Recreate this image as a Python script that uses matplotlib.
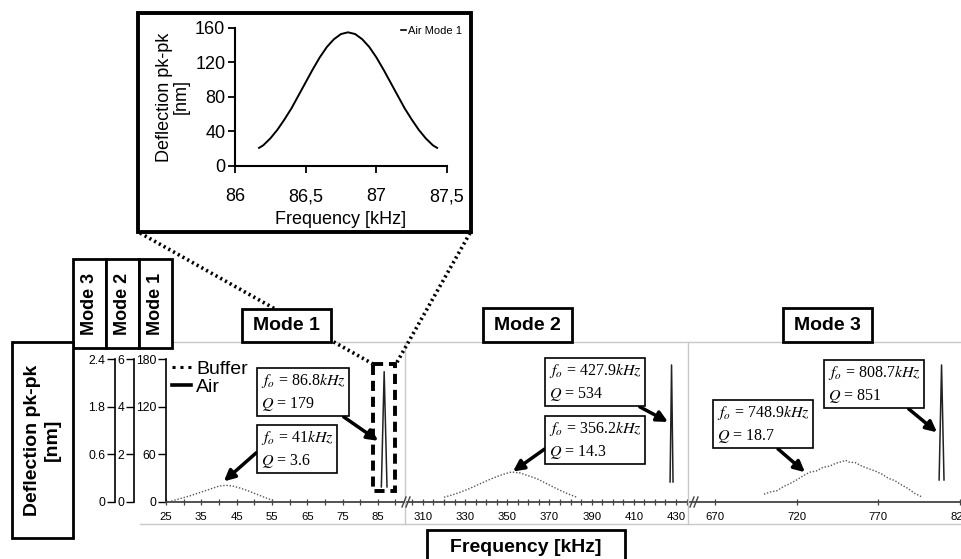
import matplotlib.pyplot as plt
from matplotlib.lines import Line2D
from matplotlib.patches import Rectangle

plt.rcParams['font.family'] = ['Liberation Sans', 'DejaVu Sans']
plt.rcParams['mathtext.fontset'] = 'stix'

W, H = 961, 559

# ---- data ----
# inset: air, mode 1 (kHz, nm)
inset_f = [86.17, 86.20, 86.25, 86.30, 86.35, 86.40, 86.45, 86.50, 86.55, 86.60, 86.65, 86.70, 86.75, 86.80,
           86.85, 86.90, 86.95, 87.00, 87.05, 87.10, 87.15, 87.20, 87.25, 87.30, 87.35, 87.40, 87.43]
inset_d = [21, 24, 32, 42, 54, 67, 82, 97, 112, 126, 138, 147, 153, 155,
           153, 147, 138, 126, 112, 97, 82, 67, 54, 42, 32, 24, 21]

# mode 1 (nm)
buf1_f = [26.5, 28, 30, 32, 34, 36, 38, 40, 42, 44, 46, 48, 50, 52, 54, 55.7]
buf1_d = [1, 3, 5.5, 8, 11, 14, 17, 20, 21, 20, 17.5, 14.5, 11, 7.5, 4, 1.5]
air1_f = [86.0, 86.8, 87.6]
air1_d = [19, 164, 19]

# mode 2 (nm)
buf2_f = [320, 324, 328, 332, 336, 340, 344, 348, 352, 356, 360, 364, 368, 372, 376, 380, 383]
buf2_d = [0.2, 0.3, 0.42, 0.56, 0.72, 0.88, 1.03, 1.16, 1.26, 1.22, 1.1, 0.98, 0.8, 0.62, 0.45, 0.3, 0.2]
air2_f = [427.2, 427.9, 428.6]
air2_d = [0.84, 5.75, 0.84]

# mode 3 (nm)
buf3_f = [700, 704, 708, 712, 716, 720, 724, 728, 732, 736, 740, 744, 748, 750,
          752, 756, 760, 764, 768, 772, 776, 780, 784, 788, 792, 797]
buf3_d = [0.13, 0.17, 0.19, 0.26, 0.31, 0.37, 0.44, 0.5, 0.52, 0.58, 0.6, 0.65, 0.68, 0.7,
          0.67, 0.66, 0.6, 0.56, 0.52, 0.47, 0.4, 0.36, 0.29, 0.23, 0.15, 0.08]
air3_f = [807.2, 808.7, 810.2]
air3_d = [0.37, 2.3, 0.37]

m1_ticks = [0, 60, 120, 180]
m2_ticks = [0, 2, 4, 6]
m3_ticks = [0, 0.8, 1.6, 2.4]
m3_labels = ['0', '0.6', '1.8', '2.4']

notes = [
    # axis, text, tip (data), box centre (px), relpos
    (0, '$f_o$ = 86.8$kHz$\n$Q$ = 179', (85.1, 77), (303, 392), (0.91, 0)),
    (0, '$f_o$ = 41$kHz$\n$Q$ = 3.6', (41.4, 26), (297, 449), (0, 0.5)),
    (1, '$f_o$ = 427.9$kHz$\n$Q$ = 534', (426.2, 3.36), (595, 382), (0.9, 0)),
    (1, '$f_o$ = 356.2$kHz$\n$Q$ = 14.3', (352.7, 1.28), (595, 440), (0, 0.35)),
    (2, '$f_o$ = 808.7$kHz$\n$Q$ = 851', (805.9, 1.17), (874, 384), (0.82, 0)),
    (2, '$f_o$ = 748.9$kHz$\n$Q$ = 18.7', (725.1, 0.5), (763, 424), (0.61, 0)),
]

fig = plt.figure(figsize=(W / 100, H / 100), dpi=100)


def px_axes(x0, y0, x1, y1, **kw):
    return fig.add_axes([x0 / W, 1 - y1 / H, (x1 - x0) / W, (y1 - y0) / H], **kw)


BUF = dict(color='#555555', lw=1.0, ls=(0, (1, 1.3)))
AIR = dict(color='#222222', lw=1.1)

# ---- three frequency panels ----
ax1 = px_axes(166, 342, 405, 502)
ax2 = px_axes(405, 342, 688, 502)
ax3 = px_axes(688, 342, 961, 502)
axes = [ax1, ax2, ax3]

ax1.set_xlim(25, 92.7)
ax2.set_xlim(301.5, 435.7)
ax3.set_xlim(653.5, 820.6)
ax1.set_ylim(0, 180 * 160 / 143)
ax2.set_ylim(0, 6 * 160 / 143)
ax3.set_ylim(0, 2.4 * 160 / 143)

ax1.plot(buf1_f, buf1_d, **BUF)
ax1.plot(air1_f, air1_d, **AIR)
ax2.plot(buf2_f, buf2_d, **BUF)
ax2.plot(air2_f, air2_d, **AIR)
ax3.plot(buf3_f, buf3_d, **BUF)
ax3.plot(air3_f, air3_d, **AIR)

ax1.set_xticks(range(25, 90, 10))
ax1.set_xticks(range(30, 93, 10), minor=True)
ax2.set_xticks(range(310, 431, 20))
ax2.set_xticks(range(305, 436, 5), minor=True)
ax3.set_xticks([670, 720, 770, 820])

for ax in axes:
    ax.patch.set_alpha(0)
    for s in ['top', 'right', 'left']:
        ax.spines[s].set_visible(False)
    ax.spines['bottom'].set_color('#444444')
    ax.spines['bottom'].set_linewidth(1.3)
    ax.tick_params(axis='x', which='both', direction='inout', length=4, width=0.9,
                   color='#444444', labelsize=8.2, pad=5)
    ax.tick_params(axis='y', left=False, labelleft=False)

ax1.spines['left'].set_visible(True)
ax1.spines['left'].set_bounds(0, 180)
ax1.spines['left'].set_linewidth(1.2)
ax1.set_yticks(m1_ticks)
ax1.tick_params(axis='y', left=True, labelleft=True, direction='out', length=6,
                width=1.0, labelsize=8.8, pad=1)

for xp, ylim, ticks, labels in [(134, 6 * 160 / 143, m2_ticks, None),
                                (115, 2.4 * 160 / 143, m3_ticks, m3_labels)]:
    axm = px_axes(xp, 342, xp + 1, 502)
    axm.patch.set_alpha(0)
    for s in ['top', 'right', 'bottom']:
        axm.spines[s].set_visible(False)
    axm.set_ylim(0, ylim)
    axm.spines['left'].set_bounds(0, ticks[-1])
    axm.spines['left'].set_linewidth(1.2)
    axm.set_xticks([])
    axm.set_yticks(ticks)
    if labels:
        axm.set_yticklabels(labels)
    axm.tick_params(axis='y', direction='out', length=6, width=1.0, labelsize=8.8, pad=1)

ax1.legend(handles=[Line2D([], [], color='black', lw=2.2, ls=(0, (1, 1.6))),
                    Line2D([], [], color='black', lw=2.6)],
           labels=['Buffer', 'Air'], loc='upper left',
           bbox_to_anchor=(172 / W, 1 - 360 / H), bbox_transform=fig.transFigure,
           frameon=False, fontsize=14, handlelength=1.0, handletextpad=0.25,
           labelspacing=0.05, borderpad=0, borderaxespad=0)

for i, txt, tip, (bx, by), rp in notes:
    axes[i].annotate(txt, xy=tip, xycoords='data', xytext=(bx / W, 1 - by / H),
                     textcoords='figure fraction', ha='center', va='center',
                     multialignment='left', fontsize=11.5, linespacing=1.35,
                     family=['Liberation Serif', 'DejaVu Serif'],
                     bbox=dict(boxstyle='square,pad=0.22', fc='white', ec='black', lw=1.2),
                     arrowprops=dict(arrowstyle='-|>', color='black', lw=2.5, mutation_scale=16,
                                     relpos=rp, shrinkA=0, shrinkB=0),
                     annotation_clip=False)

# ---- inset ----
axin = px_axes(235, 28, 447, 166)
axin.plot(inset_f, inset_d, color='black', lw=1.4)
axin.set_xlim(86, 87.5)
axin.set_ylim(0, 160)
axin.set_xticks([86, 86.5, 87, 87.5])
axin.set_xticklabels(['86', '86,5', '87', '87,5'])
axin.set_yticks(range(0, 161, 40))
for s in ['top', 'right']:
    axin.spines[s].set_visible(False)
for s in ['left', 'bottom']:
    axin.spines[s].set_linewidth(1.5)
axin.tick_params(axis='x', direction='out', length=5, width=1.3, labelsize=13, pad=11)
axin.tick_params(axis='y', direction='out', length=5, width=1.3, labelsize=13, pad=2)
axin.set_xlabel('Frequency [kHz]', fontsize=13, labelpad=4)
axin.set_ylabel('Deflection pk-pk\n[nm]', fontsize=13, labelpad=4, linespacing=0.95)
axin.legend(handles=[Line2D([], [], color='black', lw=1.2)], labels=['Air Mode 1'],
            loc='upper right', bbox_to_anchor=(462 / W, 1 - 26 / H), bbox_transform=fig.transFigure,
            frameon=False, fontsize=8, handlelength=0.5, handletextpad=0.15,
            borderpad=0, borderaxespad=0)

# ---- decorations in pixel space ----
ov = fig.add_axes([0, 0, 1, 1], zorder=10)
ov.set_xlim(0, W)
ov.set_ylim(H, 0)
ov.axis('off')
ov.patch.set_alpha(0)

grey = '#c8c8c8'
ov.plot([166, W], [342, 342], color=grey, lw=1.0, zorder=1)
ov.plot([140, W], [524, 524], color=grey, lw=1.0, zorder=1)
for xv in [405, 688]:
    ov.plot([xv, xv], [342, 524], color=grey, lw=1.0, zorder=1)

for xb in [405, 693]:
    for dx in [-3, 1]:
        ov.plot([xb + dx, xb + dx + 4], [507, 497], color='#444444', lw=1.0, zorder=2)

# zoom connectors and boxes
ov.plot([140, 373], [233, 364], color='black', lw=2.6, ls=(0, (0.6, 0.9)), zorder=2)
ov.plot([470, 396], [233, 364], color='black', lw=2.6, ls=(0, (0.6, 0.9)), zorder=2)
ov.add_patch(Rectangle((373, 364), 22, 127, fill=False, ec='black', lw=2.8,
                       ls=(0, (2.6, 1.5)), zorder=3))
ov.add_patch(Rectangle((138, 13), 333, 219, fill=False, ec='black', lw=2.8, zorder=3))


def label_box(x0, y0, x1, y1, txt, size, rot=0, lw=2.0, ls=1.2):
    ov.add_patch(Rectangle((x0, y0), x1 - x0, y1 - y0, fc='white', ec='black', lw=lw, zorder=4))
    ov.text((x0 + x1) / 2, (y0 + y1) / 2, txt, ha='center', va='center', rotation=rot,
            fontsize=size, fontweight='bold', linespacing=ls, zorder=5)


label_box(242, 309, 331, 342, 'Mode 1', 14)
label_box(483, 308, 572, 342, 'Mode 2', 14)
label_box(783, 308, 872, 342, 'Mode 3', 14)
label_box(73, 259, 106, 348, 'Mode 3', 13, rot=90)
label_box(106, 259, 139, 348, 'Mode 2', 13, rot=90)
label_box(139, 259, 172, 348, 'Mode 1', 13, rot=90)
label_box(12, 342, 73, 538, 'Deflection pk-pk\n[nm]', 14, rot=90)
ov.add_patch(Rectangle((427, 530), 198, 40, fc='white', ec='black', lw=2.0, zorder=4, clip_on=False))
ov.text(526, 547, 'Frequency [kHz]', ha='center', va='center', fontsize=14,
        fontweight='bold', zorder=5)

fig.savefig('out.png', dpi=100)
